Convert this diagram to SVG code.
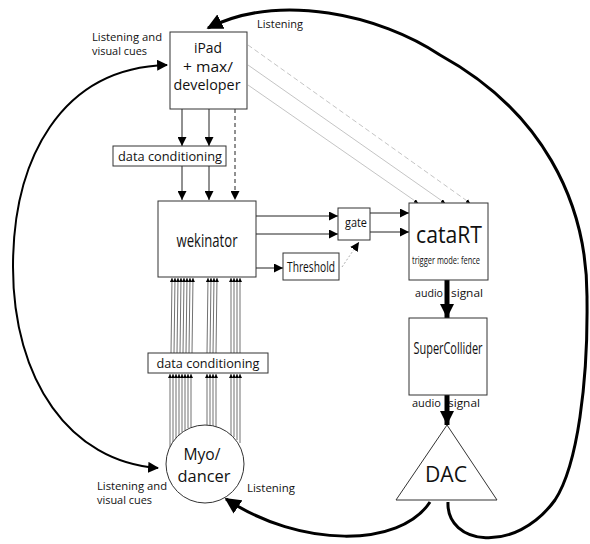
<svg xmlns="http://www.w3.org/2000/svg" width="590" height="544" viewBox="0 0 590 544">
<defs>
<style>
.box{fill:#fff;stroke:#333;stroke-width:1}
.t{font-family:"Open Sans","Noto Sans",sans-serif;fill:#111}
.ln{stroke:#222;stroke-width:1;fill:none}
.bl{stroke:#333;stroke-width:0.7;fill:none}
.gl{stroke:#aaa;stroke-width:0.7;fill:none}
.thick{stroke:#000;stroke-width:3;fill:none}
.mid{stroke:#000;stroke-width:2;fill:none}
</style>
<marker id="ah" viewBox="0 0 10 10" refX="10" refY="5" markerWidth="9" markerHeight="9" markerUnits="userSpaceOnUse" orient="auto"><path d="M0,0 L10,5 L0,10 z" fill="#000"/></marker>
<marker id="tiny" viewBox="0 0 10 10" refX="10" refY="5" markerWidth="4" markerHeight="4" markerUnits="userSpaceOnUse" orient="auto"><path d="M0,0 L10,5 L0,10 z" fill="#000"/></marker>
<marker id="big" viewBox="0 0 10 10" refX="9" refY="5" markerWidth="16" markerHeight="16" markerUnits="userSpaceOnUse" orient="auto-start-reverse"><path d="M0,0 L10,5 L0,10 z" fill="#000"/></marker>
<marker id="mid" viewBox="0 0 10 10" refX="9" refY="5" markerWidth="11" markerHeight="11" markerUnits="userSpaceOnUse" orient="auto-start-reverse"><path d="M0,0 L10,5 L0,10 z" fill="#000"/></marker>
<marker id="fat" viewBox="0 0 10 10" refX="10" refY="5" markerWidth="14" markerHeight="14" markerUnits="userSpaceOnUse" orient="auto"><path d="M0,0 L10,5 L0,10 z" fill="#000"/></marker>
</defs>
<rect width="590" height="544" fill="#fff"/>

<g id="connectors">
<line class="ln" x1="182" y1="109" x2="182" y2="146" marker-end="url(#ah)"/>
<line class="ln" x1="209" y1="109" x2="209" y2="146" marker-end="url(#ah)"/>
<line class="ln" x1="235" y1="109" x2="235" y2="200" stroke-dasharray="4,3" marker-end="url(#ah)"/>
<line class="ln" x1="182" y1="166" x2="182" y2="200" marker-end="url(#ah)"/>
<line class="ln" x1="209" y1="166" x2="209" y2="200" marker-end="url(#ah)"/>
<line class="gl" x1="248" y1="45" x2="470" y2="203" stroke-dasharray="5,3" marker-end="url(#tiny)"/>
<line class="gl" x1="248" y1="65" x2="445" y2="203" marker-end="url(#tiny)"/>
<line class="gl" x1="248" y1="85" x2="418" y2="203" marker-end="url(#tiny)"/>
<line class="ln" x1="256" y1="216" x2="338" y2="216" marker-end="url(#ah)"/>
<line class="ln" x1="256" y1="234" x2="338" y2="234" marker-end="url(#ah)"/>
<line class="ln" x1="256" y1="268" x2="283" y2="268" marker-end="url(#ah)"/>
<line class="ln" x1="370" y1="213" x2="409" y2="213" marker-end="url(#ah)"/>
<line class="ln" x1="370" y1="232" x2="409" y2="232" marker-end="url(#ah)"/>
<line x1="342" y1="267" x2="359" y2="242" stroke="#999" stroke-width="0.8" stroke-dasharray="2,2" marker-end="url(#ah)"/>
<g class="bl">
<line x1="171" y1="353" x2="172" y2="278" marker-end="url(#tiny)"/>
<line x1="174" y1="353" x2="175" y2="278" marker-end="url(#tiny)"/>
<line x1="177" y1="353" x2="178" y2="278" marker-end="url(#tiny)"/>
<line x1="180" y1="353" x2="181" y2="278" marker-end="url(#tiny)"/>
<line x1="183" y1="353" x2="184" y2="278" marker-end="url(#tiny)"/>
<line x1="186" y1="353" x2="187" y2="278" marker-end="url(#tiny)"/>
<line x1="189" y1="353" x2="190" y2="278" marker-end="url(#tiny)"/>
<line x1="192" y1="353" x2="193" y2="278" marker-end="url(#tiny)"/>
<line x1="207" y1="353" x2="208" y2="278" marker-end="url(#tiny)"/>
<line x1="210" y1="353" x2="211" y2="278" marker-end="url(#tiny)"/>
<line x1="213" y1="353" x2="214" y2="278" marker-end="url(#tiny)"/>
<line x1="216" y1="353" x2="217" y2="278" marker-end="url(#tiny)"/>
<line x1="231" y1="353" x2="231" y2="278" marker-end="url(#tiny)"/>
<line x1="234" y1="353" x2="234" y2="278" marker-end="url(#tiny)"/>
<line x1="237" y1="353" x2="237" y2="278" marker-end="url(#tiny)"/>
<line x1="240" y1="353" x2="240" y2="278" marker-end="url(#tiny)"/>
</g>
<g class="bl">
<line x1="170" y1="447" x2="170" y2="374" marker-end="url(#tiny)"/>
<line x1="173" y1="442" x2="173" y2="374" marker-end="url(#tiny)"/>
<line x1="176" y1="438" x2="176" y2="374" marker-end="url(#tiny)"/>
<line x1="179" y1="435" x2="179" y2="374" marker-end="url(#tiny)"/>
<line x1="182" y1="432" x2="182" y2="374" marker-end="url(#tiny)"/>
<line x1="185" y1="430" x2="185" y2="374" marker-end="url(#tiny)"/>
<line x1="188" y1="428" x2="188" y2="374" marker-end="url(#tiny)"/>
<line x1="191" y1="427" x2="191" y2="374" marker-end="url(#tiny)"/>
<line x1="207" y1="425" x2="207" y2="374" marker-end="url(#tiny)"/>
<line x1="210" y1="425" x2="210" y2="374" marker-end="url(#tiny)"/>
<line x1="213" y1="426" x2="213" y2="374" marker-end="url(#tiny)"/>
<line x1="216" y1="427" x2="216" y2="374" marker-end="url(#tiny)"/>
<line x1="231" y1="435" x2="231" y2="374" marker-end="url(#tiny)"/>
<line x1="234" y1="437" x2="234" y2="374" marker-end="url(#tiny)"/>
<line x1="237" y1="440" x2="237" y2="374" marker-end="url(#tiny)"/>
<line x1="240" y1="443" x2="240" y2="374" marker-end="url(#tiny)"/>
</g>
<line x1="447" y1="280" x2="447" y2="318" stroke="#000" stroke-width="5" marker-end="url(#fat)"/>
<line x1="447" y1="395" x2="447" y2="425" stroke="#000" stroke-width="5" marker-end="url(#fat)"/>
<path class="mid" d="M 167 65 C 60 68, 13 160, 13 267 C 13 380, 70 462, 158 468" marker-start="url(#mid)" marker-end="url(#mid)"/>
<path class="thick" d="M 430 502 C 400 548, 300 548, 226 499" marker-end="url(#big)"/>
<path class="thick" d="M 448 502 C 446 545, 515 555, 555 500 C 578 465, 588 380, 587 300 C 588 200, 540 110, 440 55 C 380 15, 280 -8, 208 28" marker-end="url(#big)"/>
</g>

<g id="ipad">
<rect class="box" x="170" y="32" width="77" height="77"/>
<text class="t" x="208" y="53" font-size="14" text-anchor="middle" textLength="28" lengthAdjust="spacingAndGlyphs">iPad</text>
<text class="t" x="208" y="72" font-size="14" text-anchor="middle" textLength="50" lengthAdjust="spacingAndGlyphs">+ max/</text>
<text class="t" x="207" y="90" font-size="14" text-anchor="middle" textLength="67" lengthAdjust="spacingAndGlyphs">developer</text>
</g>
<g id="dc1">
<rect class="box" x="113" y="146" width="113" height="20"/>
<text class="t" x="170" y="161" font-size="13" text-anchor="middle" textLength="104" lengthAdjust="spacingAndGlyphs">data conditioning</text>
</g>
<g id="wekinator">
<rect class="box" x="158" y="201" width="98" height="76"/>
<text class="t" x="207" y="247" font-size="19" text-anchor="middle" textLength="61" lengthAdjust="spacingAndGlyphs">wekinator</text>
</g>
<g id="gate">
<rect class="box" x="338" y="208" width="32" height="32"/>
<text class="t" x="356" y="227" font-size="13" text-anchor="middle" textLength="22" lengthAdjust="spacingAndGlyphs">gate</text>
</g>
<g id="threshold">
<rect class="box" x="283" y="253" width="56" height="27"/>
<text class="t" x="311" y="272" font-size="15" text-anchor="middle" textLength="48" lengthAdjust="spacingAndGlyphs">Threshold</text>
</g>
<g id="catart">
<rect class="box" x="409" y="203" width="79" height="77"/>
<text class="t" x="449" y="243" font-size="23" text-anchor="middle" textLength="66" lengthAdjust="spacingAndGlyphs">cataRT</text>
<text class="t" x="446" y="264" font-size="11" text-anchor="middle" textLength="68" lengthAdjust="spacingAndGlyphs">trigger mode: fence</text>
</g>
<g id="audio1">
<text class="t" x="415" y="297" font-size="10.5" textLength="28" lengthAdjust="spacingAndGlyphs">audio</text>
<text class="t" x="451" y="297" font-size="10.5" textLength="32" lengthAdjust="spacingAndGlyphs">signal</text>
</g>
<g id="supercollider">
<rect class="box" x="409" y="318" width="78" height="77"/>
<text class="t" x="448" y="354" font-size="16" text-anchor="middle" textLength="69" lengthAdjust="spacingAndGlyphs">SuperCollider</text>
</g>
<g id="audio2">
<text class="t" x="412" y="407" font-size="10.5" textLength="29" lengthAdjust="spacingAndGlyphs">audio</text>
<text class="t" x="448" y="407" font-size="10.5" textLength="32" lengthAdjust="spacingAndGlyphs">signal</text>
</g>
<g id="dac">
<polygon class="box" points="447,425 497,500 396,500"/>
<text class="t" x="446" y="482" font-size="21" text-anchor="middle" textLength="42" lengthAdjust="spacingAndGlyphs">DAC</text>
</g>
<g id="dc2">
<rect class="box" x="148" y="353" width="120" height="20"/>
<text class="t" x="208" y="368" font-size="13" text-anchor="middle" textLength="103" lengthAdjust="spacingAndGlyphs">data conditioning</text>
</g>
<g id="myo">
<circle class="box" cx="205" cy="464" r="39"/>
<text class="t" x="202" y="460" font-size="17" text-anchor="middle" textLength="37" lengthAdjust="spacingAndGlyphs">Myo/</text>
<text class="t" x="204" y="482" font-size="17" text-anchor="middle" textLength="53" lengthAdjust="spacingAndGlyphs">dancer</text>
</g>
<g id="labels">
<text class="t" x="92" y="41" font-size="11" textLength="70" lengthAdjust="spacingAndGlyphs">Listening and</text>
<text class="t" x="92" y="55" font-size="11" textLength="55" lengthAdjust="spacingAndGlyphs">visual cues</text>
<text class="t" x="257" y="28" font-size="11" textLength="46" lengthAdjust="spacingAndGlyphs">Listening</text>
<text class="t" x="97" y="490" font-size="11" textLength="70" lengthAdjust="spacingAndGlyphs">Listening and</text>
<text class="t" x="97" y="504" font-size="11" textLength="55" lengthAdjust="spacingAndGlyphs">visual cues</text>
<text class="t" x="247" y="492" font-size="11" textLength="48" lengthAdjust="spacingAndGlyphs">Listening</text>
</g>
</svg>
